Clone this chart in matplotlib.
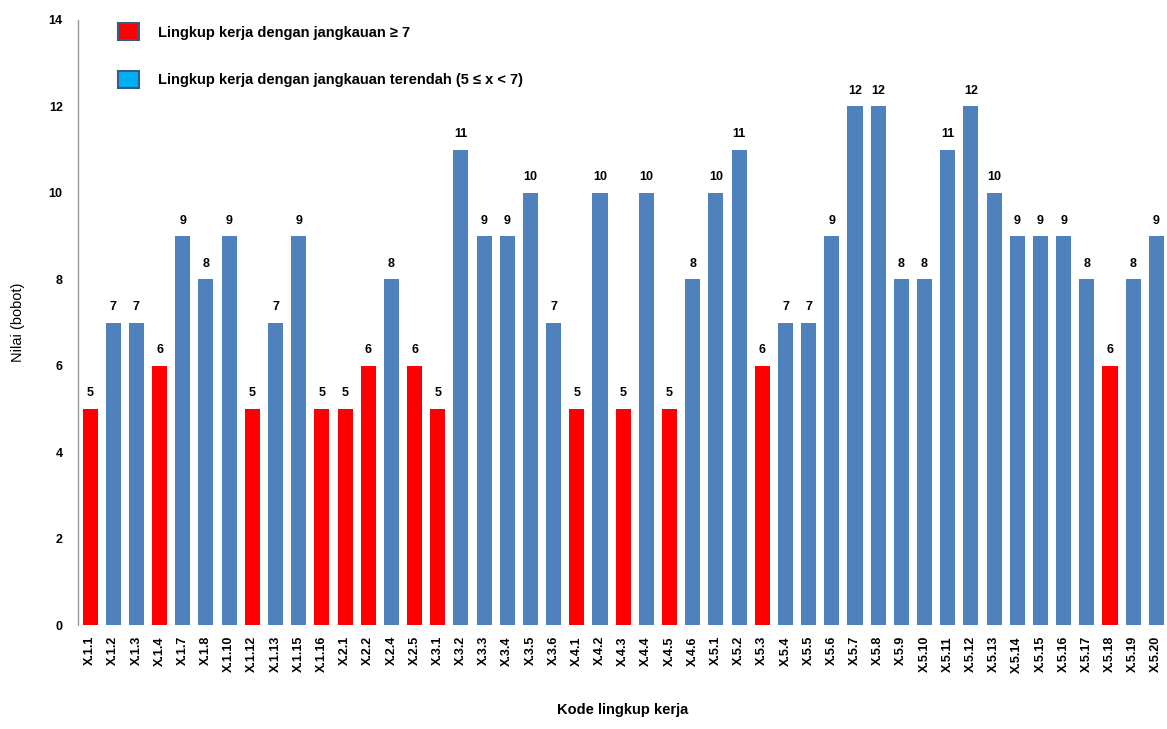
import matplotlib
matplotlib.use("Agg")
from matplotlib import pyplot as plt
from matplotlib.patches import Patch

plt.rcParams['font.family'] = ['Liberation Sans', 'DejaVu Sans']

codes = ['X.1.1', 'X.1.2', 'X.1.3', 'X.1.4', 'X.1.7', 'X.1.8', 'X.1.10', 'X.1.12',
         'X.1.13', 'X.1.15', 'X.1.16', 'X.2.1', 'X.2.2', 'X.2.4', 'X.2.5', 'X.3.1',
         'X.3.2', 'X.3.3', 'X.3.4', 'X.3.5', 'X.3.6', 'X.4.1', 'X.4.2', 'X.4.3',
         'X.4.4', 'X.4.5', 'X.4.6', 'X.5.1', 'X.5.2', 'X.5.3', 'X.5.4', 'X.5.5',
         'X.5.6', 'X.5.7', 'X.5.8', 'X.5.9', 'X.5.10', 'X.5.11', 'X.5.12', 'X.5.13',
         'X.5.14', 'X.5.15', 'X.5.16', 'X.5.17', 'X.5.18', 'X.5.19', 'X.5.20']
bobot = [5, 7, 7, 6, 9, 8, 9, 5,
         7, 9, 5, 5, 6, 8, 6, 5,
         11, 9, 9, 10, 7, 5, 10, 5,
         10, 5, 8, 10, 11, 6, 7, 7,
         9, 12, 12, 8, 8, 11, 12, 10,
         9, 9, 9, 8, 6, 8, 9]

RED = '#FF0000'
BLUE = '#4F81BD'
colors = [RED if v < 7 else BLUE for v in bobot]

fig = plt.figure(figsize=(11.67, 7.29), dpi=100)
ax = fig.add_axes([78 / 1167, 104 / 729, 1089 / 1167, 605 / 729])

x = range(len(codes))
bars = ax.bar(x, bobot, width=0.65, color=colors)
for b, v in zip(bars, bobot):
    ax.text(b.get_x() + b.get_width() / 2, v + 0.22, str(v), ha='center', va='bottom',
            fontsize=9, fontweight='bold')

ax.set_xlim(-0.52, 46.46)
ax.set_ylim(0, 14)
ax.set_yticks(range(0, 15, 2))
ax.set_xticks(list(x))
ax.set_xticklabels(codes, rotation=90, fontsize=9, fontweight='bold')
ax.tick_params(axis='both', length=0)
ax.tick_params(axis='y', pad=11, labelsize=9)
for lbl in ax.get_yticklabels():
    lbl.set_fontweight('bold')
ax.tick_params(axis='x', pad=8)

for s in ['top', 'right', 'bottom']:
    ax.spines[s].set_visible(False)
ax.spines['left'].set_color('#999999')
ax.spines['left'].set_linewidth(1)

ax.set_ylabel('Nilai (bobot)', fontsize=10.5, labelpad=17)
ax.set_xlabel('Kode lingkup kerja', fontsize=10.5, fontweight='bold', labelpad=22)

handles = [Patch(facecolor=RED, edgecolor='#3A5A85', linewidth=1.5,
                 label='Lingkup kerja dengan jangkauan \u2265 7'),
           Patch(facecolor='#00B0F0', edgecolor='#3A5A85', linewidth=1.5,
                 label='Lingkup kerja dengan jangkauan terendah (5 \u2264 x < 7)')]
leg = ax.legend(handles=handles, loc='upper left', bbox_to_anchor=(0.025, 1.016),
                frameon=False, fontsize=10.5, labelspacing=2.1, handlelength=1.4,
                handleheight=1.4, handletextpad=1.3)
for t in leg.get_texts():
    t.set_fontweight('bold')

fig.savefig('out.png', dpi=100)
